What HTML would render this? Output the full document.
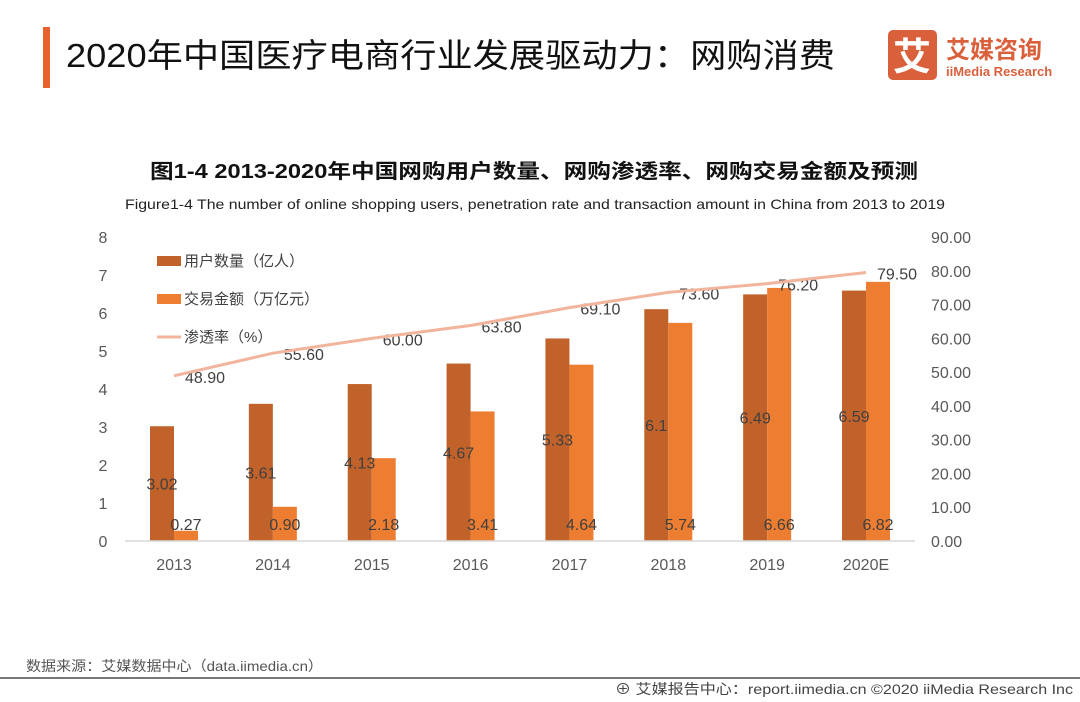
<!DOCTYPE html>
<html><head><meta charset="utf-8"><style>
body{margin:0;width:1080px;height:702px;background:#fff;overflow:hidden;font-family:"Liberation Sans","Noto Sans CJK SC",sans-serif;}
svg{position:absolute;left:0;top:0}
</style></head><body>
<svg width="1080" height="702" font-family="'Liberation Sans','Noto Sans CJK SC',sans-serif">
<rect x="43" y="27" width="7" height="61" fill="#e8612c"/>
<text x="66" y="67" font-size="33" fill="#111" textLength="769" lengthAdjust="spacingAndGlyphs">2020年中国医疗电商行业发展驱动力：网购消费</text>
<g>
<rect x="888" y="30" width="49" height="50" rx="5" fill="#d9603b"/>
<text x="912" y="70" font-size="38" fill="#fff" text-anchor="middle" font-weight="bold">艾</text>
<text x="946" y="58" font-size="24" fill="#d9603b" font-weight="bold">艾媒咨询</text>
<text x="946" y="76" font-size="13" fill="#d9603b" font-weight="bold">iiMedia Research</text>
</g>
<text x="150" y="178" font-size="20" font-weight="bold" fill="#111" textLength="768" lengthAdjust="spacingAndGlyphs">图1-4 2013-2020年中国网购用户数量、网购渗透率、网购交易金额及预测</text>
<text x="125" y="209" font-size="14" fill="#222" textLength="820" lengthAdjust="spacingAndGlyphs">Figure1-4 The number of online shopping users, penetration rate and transaction amount in China from 2013 to 2019</text>
<g id="plot"></g>
<g font-size="15" fill="#404040">
<rect x="157" y="256" width="24" height="10" fill="#c0622a"/>
<text x="184" y="266">用户数量（亿人）</text>
<rect x="157" y="294" width="24" height="10" fill="#ed7d31"/>
<text x="184" y="304">交易金额（万亿元）</text>
<line x1="157" y1="337" x2="181" y2="337" stroke="#f2b49c" stroke-width="3"/>
<text x="184" y="342">渗透率（%）</text>
</g>
<text x="26" y="671" font-size="14" fill="#555" textLength="297" lengthAdjust="spacingAndGlyphs">数据来源：艾媒数据中心（data.iimedia.cn）</text>
<line x1="0" y1="678" x2="1080" y2="678" stroke="#777" stroke-width="2"/>
<text x="615" y="694" font-size="14" fill="#444" textLength="458" lengthAdjust="spacingAndGlyphs">⊕ 艾媒报告中心：report.iimedia.cn  ©2020  iiMedia Research  Inc</text>
</svg>
<script>
const categories=["2013","2014","2015","2016","2017","2018","2019","2020E"];
const users=[3.02,3.61,4.13,4.67,5.33,6.1,6.49,6.59];
const amount=[0.27,0.90,2.18,3.41,4.64,5.74,6.66,6.82];
const rate=[48.90,55.60,60.00,63.80,69.10,73.60,76.20,79.50];
const leftTicks=[0,1,2,3,4,5,6,7,8];
const rightTicks=["0.00","10.00","20.00","30.00","40.00","50.00","60.00","70.00","80.00","90.00"];
const NS="http://www.w3.org/2000/svg";
const g=document.getElementById('plot');
const y0=541,yTop=237;
const yL=v=>y0-(y0-yTop)*v/8;
const yR=v=>y0-(y0-yTop)*v/90;
const xC=i=>174+i*98.86;
function mk(t,a,txt){const e=document.createElementNS(NS,t);for(const k in a)e.setAttribute(k,a[k]);if(txt!==undefined)e.textContent=txt;g.appendChild(e);return e;}
leftTicks.forEach(v=>{const e=mk('text',{x:103,y:yL(v)+6,'font-size':16,fill:'#595959','text-anchor':'middle'},v);

});
rightTicks.forEach(v=>{const e=mk('text',{x:931,y:yR(+v)+6,'font-size':16,fill:'#595959'},v);

});
categories.forEach((c,i)=>{
const b1=mk('rect',{x:xC(i)-24,y:yL(users[i]),width:24,height:y0-yL(users[i]),fill:'#c0622a'});


const b2=mk('rect',{x:xC(i),y:yL(amount[i]),width:24,height:y0-yL(amount[i]),fill:'#ed7d31'});


const t1=mk('text',{x:xC(i)-12,y:(yL(users[i])+y0)/2+6,'font-size':16,fill:'#404040','text-anchor':'middle'},users[i]);


const t2=mk('text',{x:xC(i)+12,y:530,'font-size':16,fill:'#404040','text-anchor':'middle'},amount[i].toFixed(2));


const t3=mk('text',{x:xC(i)+31,y:yR(rate[i])+7,'font-size':16,fill:'#404040','text-anchor':'middle'},rate[i].toFixed(2));


const xl=mk('text',{x:xC(i),y:570,'font-size':16,fill:'#595959','text-anchor':'middle'},c);


});
const ax=mk('line',{x1:125,y1:y0,x2:915,y2:y0,stroke:'#d9d9d9','stroke-width':1.5});


const ln=mk('polyline',{points:rate.map((v,i)=>xC(i)+','+yR(v)).join(' '),fill:'none',stroke:'#f2b49c','stroke-width':3,'stroke-linejoin':'round'});


</script>
</body></html>
